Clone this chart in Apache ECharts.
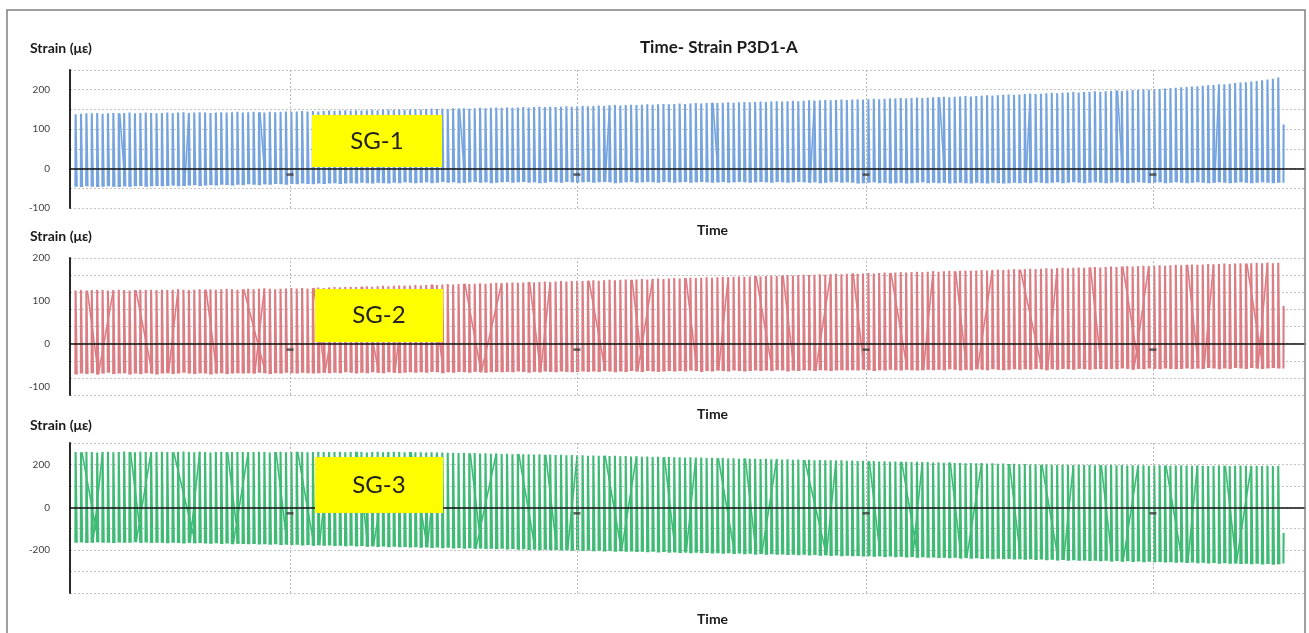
<!DOCTYPE html>
<html>
<head>
<meta charset="utf-8">
<script src="https://cdn.jsdelivr.net/npm/echarts@6/dist/echarts.min.js"></script>
<style>
html, body { margin: 0; padding: 0; background: #fff; }
#chart { width: 1309px; height: 633px; }
</style>
</head>
<body>
<div id="chart"></div>
<script>
// Strain gauge recordings P3D1-A: one peak and one trough per load cycle.
const sg1Peaks = [
  138,139,140,140,141,139,140,141,140,141,142,140,141,142,141,140,
  141,142,141,142,143,141,142,143,142,141,142,143,142,143,144,142,
  143,144,143,142,144,143,144,145,144,145,146,145,146,145,146,147,
  146,147,148,147,148,147,148,149,148,149,150,149,150,149,150,151,
  150,151,152,151,152,151,153,152,153,152,153,154,153,154,155,154,
  155,154,155,156,155,156,157,156,157,156,157,158,157,158,159,158,
  159,160,159,160,161,160,161,162,161,162,163,162,163,164,163,164,
  165,164,165,166,165,166,167,166,167,168,167,168,169,168,169,170,
  169,170,171,170,171,172,171,172,173,172,173,174,173,174,175,174,
  175,176,175,176,177,176,177,178,178,179,178,179,180,179,180,181,
  181,182,181,182,183,184,183,184,185,186,185,186,187,188,187,188,
  189,190,189,190,191,192,191,192,193,194,193,194,195,196,195,196,
  197,198,197,198,199,200,201,200,201,202,203,204,205,206,207,208,
  209,210,211,212,213,214,215,217,218,219,221,222,224,226,228,231,
  112
];
const sg1Troughs = [
  -46,-47,-45,-46,-47,-46,-45,-46,-47,-45,-46,-45,-44,-46,-45,-44,
  -45,-44,-43,-45,-44,-43,-42,-44,-43,-42,-43,-41,-42,-43,-41,-42,
  -40,-41,-42,-40,-41,-39,-40,-41,-39,-40,-38,-39,-40,-38,-39,-38,
  -37,-39,-38,-37,-38,-36,-37,-38,-36,-37,-38,-36,-37,-35,-36,-37,
  -36,-35,-37,-36,-34,-36,-35,-37,-36,-35,-34,-36,-35,-37,-36,-35,
  -34,-36,-35,-34,-36,-35,-37,-36,-34,-35,-36,-34,-35,-36,-35,-34,
  -36,-35,-34,-35,-37,-36,-35,-34,-36,-35,-34,-35,-36,-34,-35,-36,
  -35,-34,-36,-35,-34,-35,-36,-35,-34,-36,-35,-34,-35,-36,-35,-34,
  -35,-36,-34,-35,-36,-35,-34,-35,-36,-35,-37,-36,-35,-34,-36,-35,
  -36,-38,-37,-36,-35,-37,-36,-38,-37,-36,-38,-37,-36,-35,-37,-36,
  -37,-36,-38,-37,-36,-37,-38,-36,-37,-38,-36,-37,-38,-37,-36,-37,
  -36,-37,-35,-36,-37,-36,-35,-37,-36,-35,-36,-37,-36,-35,-36,-37,
  -36,-35,-36,-37,-36,-35,-36,-37,-36,-35,-37,-36,-35,-36,-37,-36,
  -35,-36,-37,-36,-35,-36,-37,-36,-35,-36,-37,-36,-35,-36,-37,-36,
  -36
];
const sg2Peaks = [
  124,125,124,125,126,125,124,125,126,125,124,125,126,125,126,125,
  126,125,126,127,126,125,126,127,126,127,126,127,128,127,126,127,
  128,127,128,129,128,127,128,129,130,129,130,129,130,131,130,131,
  132,131,132,133,132,133,134,133,134,135,134,135,136,135,136,137,
  136,137,138,137,138,139,138,139,140,139,140,141,140,141,142,141,
  142,143,142,143,144,143,144,145,144,145,146,145,146,147,146,147,
  148,147,148,149,148,149,150,149,150,151,150,151,152,151,152,153,
  152,153,154,153,154,155,154,155,156,155,156,157,156,157,158,157,
  158,159,158,159,160,159,160,161,160,161,162,161,162,163,162,163,
  164,163,164,165,164,165,166,165,166,167,166,167,168,167,168,169,
  168,169,170,169,170,171,170,171,172,171,172,173,172,173,174,173,
  174,175,174,175,176,175,176,177,176,177,178,177,178,179,178,179,
  180,179,180,181,180,181,182,181,182,183,182,183,184,183,184,185,
  184,185,186,185,186,187,186,187,188,187,188,189,188,189,188,189,
  88
];
const sg2Troughs = [
  -72,-70,-71,-69,-72,-70,-68,-71,-70,-69,-72,-70,-71,-69,-70,-72,
  -70,-69,-71,-70,-68,-70,-71,-69,-70,-72,-70,-69,-71,-70,-69,-70,
  -69,-70,-68,-69,-71,-69,-70,-68,-69,-70,-68,-69,-70,-69,-68,-69,
  -68,-69,-67,-68,-70,-68,-69,-67,-68,-69,-67,-68,-69,-68,-67,-68,
  -67,-68,-66,-67,-69,-67,-68,-66,-67,-68,-66,-67,-68,-67,-66,-67,
  -66,-67,-65,-66,-68,-66,-67,-65,-66,-67,-65,-66,-67,-66,-65,-66,
  -65,-66,-64,-65,-67,-65,-66,-64,-65,-66,-64,-65,-66,-65,-64,-65,
  -64,-65,-63,-64,-66,-64,-65,-63,-64,-65,-63,-64,-65,-64,-63,-64,
  -63,-64,-62,-63,-65,-63,-64,-62,-63,-64,-62,-63,-64,-63,-62,-63,
  -62,-63,-61,-62,-64,-62,-63,-61,-62,-63,-61,-62,-63,-62,-61,-62,
  -61,-62,-60,-61,-63,-61,-62,-60,-61,-62,-60,-61,-62,-61,-60,-61,
  -60,-61,-59,-60,-62,-60,-61,-59,-60,-61,-59,-60,-61,-60,-59,-60,
  -59,-60,-58,-59,-61,-59,-60,-58,-59,-60,-58,-59,-60,-59,-58,-59,
  -58,-59,-57,-58,-60,-58,-59,-57,-58,-59,-57,-58,-59,-58,-57,-58,
  -58
];
const sg3Peaks = [
  258,257,259,258,256,258,259,257,258,260,258,257,259,258,257,258,
  259,258,257,258,260,258,257,259,258,256,258,259,257,258,259,258,
  257,258,259,258,256,258,259,257,258,259,258,257,258,259,258,257,
  258,259,257,258,259,258,256,258,259,257,258,259,258,257,258,257,
  257,256,257,255,256,254,255,253,254,252,253,251,252,250,251,249,
  250,248,249,247,248,246,247,245,246,244,245,243,244,242,243,241,
  242,240,241,239,240,238,239,237,238,236,237,235,236,234,235,233,
  234,232,233,231,232,230,231,229,230,228,229,227,228,226,227,225,
  226,224,225,223,224,222,223,221,222,220,221,219,220,218,219,217,
  218,216,217,215,216,214,215,213,214,212,213,211,212,210,211,209,
  210,208,209,207,208,206,207,205,206,204,205,203,204,202,203,201,
  202,200,201,199,200,198,199,198,199,197,198,197,198,196,197,196,
  197,196,197,195,196,195,196,194,195,196,195,194,195,196,195,194,
  195,194,193,194,195,194,193,194,195,194,193,194,193,194,193,194,
  -120
];
const sg3Troughs = [
  -166,-164,-167,-165,-163,-166,-165,-167,-164,-166,-165,-163,-166,-164,-167,-165,
  -166,-168,-165,-167,-169,-166,-168,-167,-169,-170,-168,-171,-169,-172,-170,-171,
  -173,-171,-174,-172,-175,-173,-176,-174,-177,-175,-178,-176,-179,-177,-180,-178,
  -181,-179,-182,-180,-183,-181,-184,-182,-185,-183,-186,-184,-187,-185,-188,-186,
  -189,-187,-190,-188,-191,-189,-192,-190,-193,-191,-194,-192,-195,-193,-196,-194,
  -197,-195,-198,-196,-199,-197,-200,-198,-201,-199,-202,-200,-203,-201,-204,-202,
  -205,-203,-206,-204,-207,-205,-208,-206,-209,-207,-210,-208,-211,-209,-212,-210,
  -213,-211,-214,-212,-215,-213,-216,-214,-217,-215,-218,-216,-219,-217,-220,-218,
  -221,-219,-222,-220,-223,-221,-224,-222,-225,-223,-226,-224,-227,-225,-228,-226,
  -229,-227,-230,-228,-231,-229,-232,-230,-233,-231,-234,-232,-235,-233,-236,-234,
  -237,-235,-238,-236,-239,-237,-240,-238,-241,-239,-242,-240,-243,-241,-244,-242,
  -245,-243,-246,-244,-247,-245,-248,-246,-249,-247,-250,-248,-251,-249,-252,-250,
  -253,-251,-254,-252,-255,-253,-256,-254,-257,-255,-258,-256,-259,-257,-260,-258,
  -261,-259,-262,-260,-263,-261,-264,-262,-265,-263,-266,-264,-267,-265,-268,-266,
  -262
];

// Samples logged out of step: [cycle, offset in cycles]; + joins a peak to a later
// trough, - joins an earlier trough to the peak
const sg1Slips = [[8,1],[21,-1],[34,1],[57,-1],[71,1],[99,-1],[118,1],[137,-1],[160,1],[177,-1],[193,1],[212,-1]];
const sg2Slips = [[2,2],[7,-3],[11,3],[19,-2],[24,2],[31,4],[35,-2],[44,2],[49,-3],[53,3],[61,-2],[66,2],
  [72,3],[79,-4],[84,2],[88,-2],[95,3],[103,2],[107,-3],[113,2],[121,-2],[126,3],[131,2],[140,-3],
  [144,2],[151,3],[159,-2],[163,2],[170,-3],[175,4],[182,-2],[188,2],[194,3],[199,-3],[206,2],[211,-2],
  [217,3],[221,-2]];
const sg3Slips = [[1,3],[5,-2],[10,2],[14,-3],[18,4],[23,-2],[28,2],[32,-3],[37,2],[41,3],[47,-2],[52,2],
  [58,-3],[62,3],[67,-2],[73,2],[78,-4],[82,3],[87,2],[93,-2],[98,3],[104,-3],[109,2],[115,-2],
  [119,3],[124,2],[130,-3],[135,4],[141,-2],[147,2],[153,3],[157,-2],[162,2],[168,-3],[173,2],
  [179,3],[185,-2],[190,2],[197,-3],[202,3],[208,-2],[213,2],[218,-3]];

// Time axis (cycle units) and its major divisions
const timeMin = 0;
const timeMax = 229;
const timeMajor = [40.8, 94.0, 147.6, 200.8];

// Strain axes: range, grid step and labelled values per panel
const strainAxes = [
  { min: -100, max: 250, step: 50, labels: [-100, 0, 100, 200] },
  { min: -120, max: 200, step: 40, labels: [-100, 0, 100, 200] },
  { min: -400, max: 300, step: 100, labels: [-200, 0, 200] }
];

const gaugeNames = ['SG-1', 'SG-2', 'SG-3'];
const gaugeColors = ['#76a4de', '#dc7c83', '#3fbb76'];
const title = 'Time- Strain P3D1-A';
const yName = 'Strain (\u03bc\u03b5)';
const xName = 'Time';

const first = 1, rise = 0.04, hold = 0.22;

// each cycle as its own stroke: rise to the peak, hold, fall back to the trough
function cycleLine(peaks, troughs) {
  const pts = [];
  for (let i = 0; i < peaks.length; i++) {
    const t = first + i;
    pts.push([t, troughs[i]], [t + rise, peaks[i]]);
    if (i < peaks.length - 1) {
      pts.push([t + hold, peaks[i]], [t + hold + rise, troughs[i]]);
    }
    pts.push(null);
  }
  return pts;
}

// out-of-step samples, each drawn as its own stroke
function slipLine(peaks, troughs, slips) {
  const pts = [];
  slips.forEach(([i, s]) => {
    const t = first + i;
    const j = Math.min(Math.max(i + s, 0), troughs.length - 1);
    if (s > 0) pts.push([t + hold, peaks[i]], [t + s + hold + rise, troughs[j]]);
    else pts.push([t + s + hold + rise, troughs[j]], [t + rise, peaks[i]]);
    pts.push(null);
  });
  return pts;
}

const panels = [
  { top: 70, height: 138, peaks: sg1Peaks, troughs: sg1Troughs, slips: sg1Slips, tag: [312, 115, 130, 52], xTitle: 223, yTitle: 41 },
  { top: 258, height: 137, peaks: sg2Peaks, troughs: sg2Troughs, slips: sg2Slips, tag: [315, 289, 128, 53], xTitle: 407, yTitle: 229 },
  { top: 443, height: 150, peaks: sg3Peaks, troughs: sg3Troughs, slips: sg3Slips, tag: [315, 457, 128, 56], xTitle: 612, yTitle: 418 }
];

const font = 'Lato, "Liberation Sans", sans-serif';

const option = {
  animation: false,
  backgroundColor: '#ffffff',
  title: {
    text: title,
    left: 635, top: 34,
    textStyle: { fontFamily: font, fontSize: 17, fontWeight: 'bold', color: '#1a1a1a' }
  },
  grid: panels.map(p => ({ left: 70, right: 4, top: p.top, height: p.height })),
  xAxis: panels.map((p, k) => ({
    type: 'value', gridIndex: k, min: timeMin, max: timeMax, z: 5,
    axisLine: { onZero: true, lineStyle: { color: '#111', width: 1.5 } },
    axisTick: { show: false },
    splitLine: { show: false },
    axisLabel: { show: false }
  })),
  yAxis: panels.map((p, k) => ({
    type: 'value', gridIndex: k,
    min: strainAxes[k].min, max: strainAxes[k].max, interval: strainAxes[k].step,
    axisLine: { show: true, onZero: false, lineStyle: { color: '#111', width: 1.8 } },
    axisTick: { show: false },
    axisLabel: {
      customValues: strainAxes[k].labels,
      fontFamily: font, fontSize: 10, color: '#404040', margin: 20
    },
    splitLine: { show: true, lineStyle: { type: [2, 2], color: '#c4c4c4', width: 1 } }
  })),
  series: panels.flatMap((p, k) => [
    {
      name: gaugeNames[k],
      type: 'line', xAxisIndex: k, yAxisIndex: k,
      data: cycleLine(p.peaks, p.troughs), connectNulls: false,
      showSymbol: false, symbol: 'none', sampling: null,
      lineStyle: { color: gaugeColors[k], width: 2.1 },
      z: 2,
      markLine: {
        silent: true, symbol: 'none', label: { show: false },
        lineStyle: { type: [2, 2], color: '#b8b8b8', width: 1 },
        data: timeMajor.map(v => ({ xAxis: v }))
      }
    },
    {
      name: gaugeNames[k] + ' out of step',
      type: 'line', xAxisIndex: k, yAxisIndex: k,
      data: slipLine(p.peaks, p.troughs, p.slips), connectNulls: false,
      showSymbol: false, symbol: 'none', sampling: null,
      lineStyle: { color: gaugeColors[k], width: 1.6 },
      z: 2
    },
    {
      // division markers just under the zero line
      type: 'scatter', xAxisIndex: k, yAxisIndex: k, silent: true, z: 6,
      data: timeMajor.map(v => [v, 0]),
      symbol: 'rect', symbolSize: [7, 2.5], symbolOffset: [0, 6],
      itemStyle: { color: '#3a3a3a' }
    }
  ]),
  graphic: [
    { type: 'rect', z: 100, shape: { x: 7, y: 10, width: 1298, height: 640 },
      style: { fill: 'none', stroke: '#808080', lineWidth: 1.5 } }
  ].concat(panels.flatMap((p, k) => [
    { type: 'text', z: 100, left: 30, top: p.yTitle,
      style: { text: yName, font: 'bold 14px ' + font, fill: '#1a1a1a' } },
    { type: 'text', z: 100, left: 697, top: p.xTitle,
      style: { text: xName, font: 'bold 14px ' + font, fill: '#1a1a1a' } },
    { type: 'rect', z: 100, shape: { x: p.tag[0], y: p.tag[1], width: p.tag[2], height: p.tag[3] },
      style: { fill: '#ffff00' } },
    { type: 'text', z: 101, x: p.tag[0] + p.tag[2] / 2, y: p.tag[1] + p.tag[3] / 2,
      style: { text: gaugeNames[k], font: '24px ' + font, fill: '#222', align: 'center', verticalAlign: 'middle' } }
  ]))
};

const chart = echarts.init(document.getElementById('chart'), null, { renderer: 'canvas' });
chart.setOption(option);
</script>
</body>
</html>
